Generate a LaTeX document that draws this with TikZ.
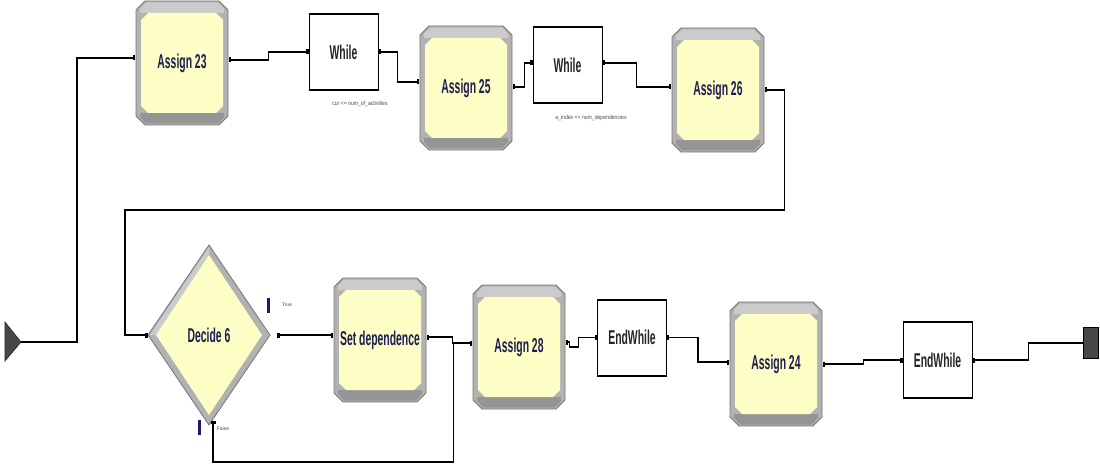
\documentclass[tikz,border=0pt]{standalone}
\usepackage{fontspec}
\setmainfont{Liberation Sans}
\usepackage{graphicx}
\usetikzlibrary{arrows.meta,calc}

\definecolor{modyellow}{HTML}{FDFDC6}
\definecolor{bevel}{HTML}{B2B2B2}
\definecolor{bevellight}{HTML}{CBCBCB}
\definecolor{beveldark}{HTML}{959595}
\definecolor{beveledge}{HTML}{767676}
\definecolor{modtext}{HTML}{1E1E52}
\definecolor{portblue}{HTML}{1A1A70}
\definecolor{notegray}{HTML}{4A4A4A}

% condensed look for block captions
\newcommand\narrow[1]{\scalebox{0.52}[1]{\bfseries #1}}

\tikzset{
  modlabel/.style={font=\fontsize{20}{20}\selectfont, text=modtext, inner sep=0pt},
  assignnode/.style={modlabel, minimum width=93, minimum height=124},
  decidenode/.style={modlabel, minimum width=122, minimum height=180},
  whilebox/.style={draw=black, fill=white, line width=0.9pt,
    font=\fontsize{20}{20}\selectfont, text=black!85, inner sep=0pt,
    minimum width=69, minimum height=77,
    path picture={
      \draw[line width=3pt] (path picture bounding box.north west) -- (path picture bounding box.north east);
      \draw[line width=3pt] (path picture bounding box.south west) -- (path picture bounding box.south east);
    }},
  note/.style={font=\fontsize{6}{6}\selectfont, text=notegray, inner sep=0pt},
  conn/.style={draw=black, line width=1.5pt},
  ports/.style={{Rectangle[width=5pt,length=2.5pt]}-{Rectangle[width=5pt,length=2.5pt]}},
  outport/.style={{Rectangle[width=5pt,length=2.5pt]}-},
  inport/.style={-{Rectangle[width=5pt,length=2.5pt]}},
  endpoint/.style={inner sep=0pt, minimum size=0pt},
}

% Assign-type module: grey bevelled octagon with a yellow face
\newcommand\assignmod[4]{%
  \begin{scope}[shift={(#2,#3)}]
    \filldraw[fill=bevel, draw=beveledge, line width=0.8pt]
      (-37,-62) -- (37,-62) -- (46,-53) -- (46,53) -- (37,62) -- (-37,62) -- (-46,53) -- (-46,-53) -- cycle;
    \fill[bevellight] (-36,-60.5) -- (36,-60.5) -- (42,-54) -- (42,-50) -- (-42,-50) -- (-42,-54) -- cycle;
    \fill[beveldark] (-42,50) -- (42,50) -- (42,54) -- (36,60.5) -- (-36,60.5) -- (-42,54) -- cycle;
    \fill[modyellow] (-34,-50) -- (34,-50) -- (41,-43) -- (41,43) -- (34,50) -- (-34,50) -- (-41,43) -- (-41,-43) -- cycle;
  \end{scope}
  \node[assignnode] (#1) at (#2,#3) {\narrow{#4}};
}

% Decide module: bevelled diamond
\newcommand\decidemod[4]{%
  \begin{scope}[shift={(#2,#3)}]
    \filldraw[fill=bevel, draw=beveledge, line width=0.8pt]
      (0,-90) -- (61,0) -- (0,90) -- (-61,0) -- cycle;
    \fill[bevellight] (0,-88) -- (-59,0) -- (-53,0) -- (0,-80) -- cycle;
    \fill[modyellow] (0,-80) -- (53,0) -- (0,80) -- (-53,0) -- cycle;
  \end{scope}
  \node[decidenode] (#1) at (#2,#3) {\narrow{#4}};
}

\begin{document}
\begin{tikzpicture}[x=1pt, y=-1pt]
  \useasboundingbox[fill=white] (0,0) rectangle (1100,468);

  % entry (create) and exit (dispose)
  \filldraw[fill=black!72, draw=black!85, line width=0.6pt] (5,322) -- (21,342) -- (5,361) -- cycle;
  \node[endpoint] (create) at (21,342) {};
  \node[draw=black, fill=black!72, minimum width=15, minimum height=31, inner sep=0pt]
        (dispose) at (1090.5,343) {};

  % upper row
  \assignmod{a23}{182}{63}{Assign 23}
  \node[whilebox] (w1) at (343.5,52) {\narrow{While}};
  \node[note] (wl1) at (360,104) {\scalebox{0.85}[1]{cur <= num\_of\_activities}};
  \assignmod{a25}{466}{88}{Assign 25}
  \node[whilebox] (w2) at (567.5,65) {\narrow{While}};
  \node[note] (wl2) at (591,118) {\scalebox{0.85}[1]{a\_index <= num\_dependencies}};
  \assignmod{a26}{718}{90}{Assign 26}

  % lower row
  \decidemod{d6}{209}{335}{Decide 6}
  \assignmod{sd}{380}{340}{Set dependence}
  \assignmod{a28}{519}{347}{Assign 28}
  \node[whilebox] (ew1) at (632,337.5) {\narrow{EndWhile}};
  \assignmod{a24}{776}{364}{Assign 24}
  \node[whilebox] (ew2) at (937.5,360) {\narrow{EndWhile}};

  % decide branch labels
  \fill[portblue] (267,298) rectangle (270,313);
  \node[note, font=\fontsize{5}{5}\selectfont] (ttrue) at (287,305) {True};
  \fill[portblue] (198,420) rectangle (201,435);
  \node[note, font=\fontsize{5}{5}\selectfont] (tfalse) at (223,429) {False};

  % connectors
  \draw[conn, inport] (create) -- ++(56,0) |- ($(a23.west)+(0,-5)$);
  \draw[conn, ports] ($(a23.east)+(0,-3)$) -- ++(40,0) |- (w1.west);
  \draw[conn, ports] (w1.east) -- ++(19,0) |- ($(a25.west)+(0,-6)$);
  \draw[conn, ports] ($(a25.east)+(0,-1)$) -- ++(12,0) |- ($(w2.west)+(0,-2)$);
  \draw[conn, ports] ($(w2.east)+(0,-2)$) -- ++(34,0) |- ($(a26.west)+(0,-3)$);
  \draw[conn, ports] (a26.east) -- ++(20,0) -- ++(0,120) -| ($(d6.west)+(-23,0)$) -- (d6.west);
  \draw[conn, ports] ($(d6.east)+(7,0)$) -- (sd.west |- d6.east);
  \draw[conn, ports] ($(sd.east)+(0,-3)$) -- ++(26,0) |- ($(a28.west)+(0,-4)$);
  \draw[conn, ports] ($(d6.south)+(4,-4)$) -- ++(0,41) -| ($(a28.west)+(-19,-4)$) -- ($(a28.west)+(0,-4)$);
  \draw[conn, ports] ($(a28.east)+(0,-5)$) -- ++(4,0) -- ++(0,5) -- ++(9,0) |- (ew1.west);
  \draw[conn, ports] (ew1.east) -- ++(31,0) |- ($(a24.west)+(0,-2)$);
  \draw[conn, ports] (a24.east) -- ++(41,0) |- (ew2.west);
  \draw[conn, outport] (ew2.east) -- ++(56,0) |- (dispose.west);
\end{tikzpicture}
\end{document}
